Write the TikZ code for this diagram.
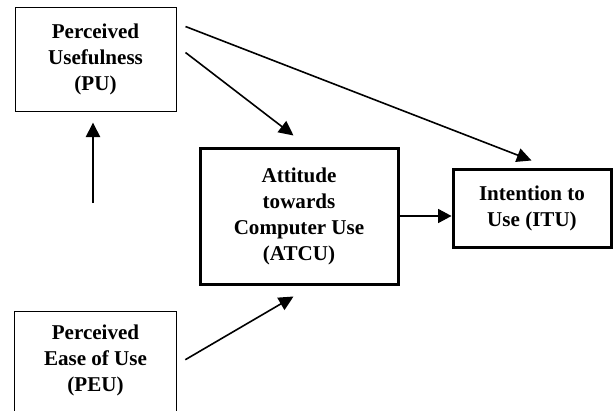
\documentclass[tikz,border=0pt]{standalone}
\usepackage{fontspec}
\setmainfont{Liberation Serif}
\usetikzlibrary{arrows.meta,calc}
\tikzset{
  lbl/.style={inner sep=0pt, align=center, font=\fontsize{15.8}{19.5}\selectfont\bfseries},
  thinbox/.style={lbl, draw, line width=0.75pt},
  thickbox/.style={lbl, draw, line width=2.25pt},
  arr/.style={-{Triangle[length=11pt,width=10.5pt]}, line width=1.2pt},
  thinarr/.style={-{Triangle[length=10pt,width=10.5pt]}, line width=0.9pt},
  boldarr/.style={-{Triangle[length=11pt,width=10.5pt]}, line width=2pt}
}
\begin{document}
\begin{tikzpicture}[x=0.75pt,y=-0.75pt]
\useasboundingbox (0,0) rectangle (613,410);
\clip (0,0) rectangle (613,410);
\fill[white] (0,0) rectangle (613,410);
\node[thinbox, minimum width=120.75pt, minimum height=77.25pt] (PU) at (95.5,59.5) {Perceived\\Usefulness\\(PU)};
\node[thickbox, minimum width=148.5pt, minimum height=102pt] (ATCU) at (299,216) {Attitude\\towards\\Computer Use\\(ATCU)};
\node[thickbox, minimum width=118.5pt, minimum height=58.5pt] (ITU) at (532,208) {Intention to\\Use (ITU)};
\node[lbl, minimum width=120.75pt, minimum height=72pt] (PEU) at (95.5,360) {Perceived\\Ease of Use\\(PEU)};
\draw[line width=0.75pt] ($(PEU.south west)+(0,6)$) -- (PEU.north west) -- (PEU.north east) -- ($(PEU.south east)+(0,6)$);
\coordinate (src) at (93,203);
\draw[arr] ($(PU.north east)+(9,45)$) -- ($(ATCU.north west)+(95,-11)$);
\draw[arr] ($(PU.north east)+(9,19)$) -- ($(ITU.north west)+(80,-7)$);
\draw[boldarr] (src) -- ($(PU.south)+(-2.5,11)$);
\draw[thinarr] (ATCU.east) -- (ATCU.east -| ITU.west);
\draw[arr] ($(PEU.north east)+(9,48)$) -- ($(ATCU.south west)+(95,11)$);
\end{tikzpicture}
\end{document}
